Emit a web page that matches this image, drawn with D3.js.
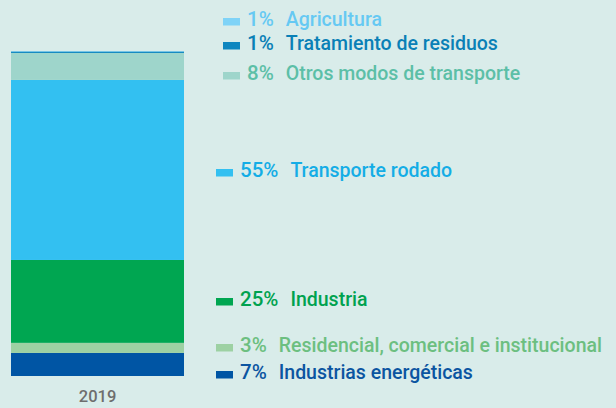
<!DOCTYPE html>
<html>
<head>
<meta charset="utf-8">
<script src="https://cdn.jsdelivr.net/npm/d3@7"></script>
<style>
  html, body { margin: 0; padding: 0; background: #d9ecea; }
  svg { display: block; }
  text { font-family: Roboto, "Open Sans", sans-serif; }
</style>
</head>
<body>
<svg id="chart" width="616" height="408"></svg>
<script>
// ---- data (stack order: bottom to top) ----
const years = ["2019"];
const categories = [
  "Industrias energéticas",
  "Residencial, comercial e institucional",
  "Industria",
  "Transporte rodado",
  "Otros modos de transporte",
  "Tratamiento de residuos",
  "Agricultura"
];
const values = [7.1, 3.1, 25.5, 55.4, 8.3, 0.45, 0.15];
const percentLabels = ["7%", "3%", "25%", "55%", "8%", "1%", "1%"];

// ---- styles ----
const barColors = ["#0055a4", "#9dd1a3", "#00a651", "#33c0f1", "#9ed5cb", "#0e86bf", "#7fd3f7"];
const textColors = ["#0b55a1", "#6cbf80", "#00a24f", "#14ade6", "#5cbfa7", "#0a80b6", "#66c9f3"];
// legend layout (baseline y, x shift) per category
const legendBaseline = [379, 352, 306, 177, 80, 50, 26];
const legendShift = [0, 0, 0, 0, 7, 7, 7];

const svg = d3.select("#chart");

const x = d3.scaleBand().domain(years).range([11, 184]).padding(0);
const y = d3.scaleLinear().domain([0, 100]).range([376, 51]);

// stacked data
const row = { year: years[0] };
categories.forEach((c, i) => row[c] = values[i]);
const stack = d3.stack().keys(categories)([row]);

svg.append("g").selectAll("rect")
  .data(stack)
  .join("rect")
  .attr("x", d => x(d[0].data.year))
  .attr("width", x.bandwidth())
  .attr("y", d => y(d[0][1]))
  .attr("height", d => y(d[0][0]) - y(d[0][1]))
  .attr("fill", (d, i) => barColors[i]);

// x axis
const xAxis = svg.append("g")
  .attr("transform", "translate(0,386)")
  .call(d3.axisBottom(x).tickSize(0).tickPadding(0));
xAxis.select(".domain").remove();
xAxis.selectAll("text")
  .attr("dy", "0")
  .attr("y", 15.5)
  .attr("fill", "#6e6e6e")
  .style("font-size", "16.5px")
  .style("font-weight", "500")
  .style("font-family", "Roboto, sans-serif");

// legend
const lg = svg.append("g");
categories.forEach((c, i) => {
  const bx = 216 + legendShift[i];
  const by = legendBaseline[i];
  lg.append("rect")
    .attr("x", bx).attr("y", by - 8)
    .attr("width", 17).attr("height", 7.5)
    .attr("fill", barColors[i]);
  const p = lg.append("text")
    .attr("x", bx + 24).attr("y", by)
    .attr("fill", textColors[i])
    .style("font-size", "20.5px")
    .style("font-weight", "500")
    .text(percentLabels[i]);
  const w = p.node().getComputedTextLength();
  lg.append("text")
    .attr("x", bx + 24 + w + 12).attr("y", by)
    .attr("fill", textColors[i])
    .style("font-size", "19.5px")
    .style("font-weight", "500")
    .text(c);
});
</script>
</body>
</html>
